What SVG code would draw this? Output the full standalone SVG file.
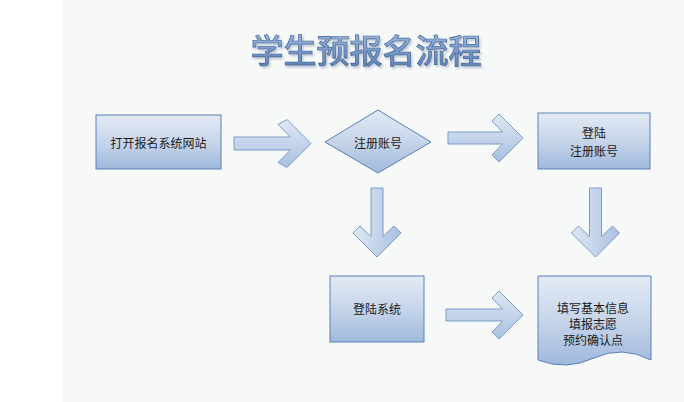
<svg xmlns="http://www.w3.org/2000/svg" width="684" height="402" viewBox="0 0 684 402">
  <defs>
    <linearGradient id="boxGrad" x1="0" y1="0" x2="0" y2="1">
      <stop offset="0" stop-color="#e3eaf4"/>
      <stop offset="0.5" stop-color="#c7d5ea"/>
      <stop offset="1" stop-color="#9fb9dc"/>
    </linearGradient>
    <linearGradient id="arrowH" x1="0" y1="0" x2="0" y2="1">
      <stop offset="0" stop-color="#dfe8f4"/>
      <stop offset="1" stop-color="#a9c0e0"/>
    </linearGradient>
    <linearGradient id="arrowV" x1="0" y1="0" x2="1" y2="0">
      <stop offset="0" stop-color="#dfe8f4"/>
      <stop offset="1" stop-color="#a9c0e0"/>
    </linearGradient>
    <linearGradient id="titleGrad" x1="0" y1="0" x2="0" y2="1">
      <stop offset="0" stop-color="#b3c6e2"/>
      <stop offset="0.5" stop-color="#7b9dcc"/>
      <stop offset="1" stop-color="#5579ae"/>
    </linearGradient>
    <filter id="titleShadow" x="-10%" y="-30%" width="120%" height="160%">
      <feDropShadow dx="1.5" dy="2" stdDeviation="0.8" flood-color="#b9c3cf" flood-opacity="0.9"/>
    </filter>
    <style>
      .node { fill: url(#boxGrad); stroke: #5a7fb6; stroke-width: 1; }
      .arrH { fill: url(#arrowH); stroke: #7d9cc8; stroke-width: 1; stroke-linejoin: miter; }
      .arrV { fill: url(#arrowV); stroke: #7d9cc8; stroke-width: 1; stroke-linejoin: miter; }
      .lbl { font-family: "Noto Sans CJK SC", "Noto Sans", sans-serif; font-size: 12px; fill: #1a1a1a; text-anchor: middle; dominant-baseline: central; }
      .title { font-family: "Noto Sans CJK SC", "Noto Sans", sans-serif; font-size: 33px; font-weight: 500; text-anchor: middle; }
    </style>
  </defs>

  <rect x="0" y="0" width="684" height="402" fill="#ffffff"/>
  <rect x="63" y="0" width="621" height="402" fill="#f7f9f9"/>

  <g id="title">
    <text class="title" x="366" y="63" fill="url(#titleGrad)" stroke="#3f6399" stroke-width="0.7" filter="url(#titleShadow)">学生预报名流程</text>
  </g>

  <g id="connectors">
    <path class="arrH" d="M234,137 H290.5 L278,124.5 L287,119.5 L311,143.5 L287,167.5 L278,162.5 L290.5,150 H234 Z"/>
    <path class="arrH" d="M448,132 H502.5 L492,121 L499,114 L523,138 L499,162 L492,155 L502.5,144 H448 Z"/>
    <path class="arrH" d="M446,309 H502.5 L492,298 L499,291 L523,315 L499,339 L492,332 L502.5,321 H446 Z"/>
    <path class="arrV" d="M371,188 H383 V236.5 L394,226 L401,233 L377,257 L353,233 L360,226 L371,236.5 Z"/>
    <path class="arrV" d="M589.5,188 H601.5 V236.5 L612.5,226 L619.5,233 L595.5,257 L571.5,233 L578.5,226 L589.5,236.5 Z"/>
  </g>

  <g id="n1">
    <rect class="node" x="96" y="115" width="125" height="54"/>
    <text class="lbl" x="158.5" y="142">打开报名系统网站</text>
  </g>

  <g id="n2">
    <polygon class="node" points="325,142 378,110 431,142 378,173"/>
    <text class="lbl" x="378" y="142">注册账号</text>
  </g>

  <g id="n3">
    <rect class="node" x="538" y="113" width="112" height="56"/>
    <text class="lbl" x="594" y="132">登陆</text>
    <text class="lbl" x="594" y="150">注册账号</text>
  </g>

  <g id="n4">
    <rect class="node" x="330" y="276" width="94" height="66"/>
    <text class="lbl" x="377" y="308">登陆系统</text>
  </g>

  <g id="n5">
    <path class="node" d="M538,276 H651 V360 Q622,345 594,358 T538,360 Z"/>
    <text class="lbl" x="593" y="307">填写基本信息</text>
    <text class="lbl" x="593" y="323">填报志愿</text>
    <text class="lbl" x="593" y="339">预约确认点</text>
  </g>
</svg>
